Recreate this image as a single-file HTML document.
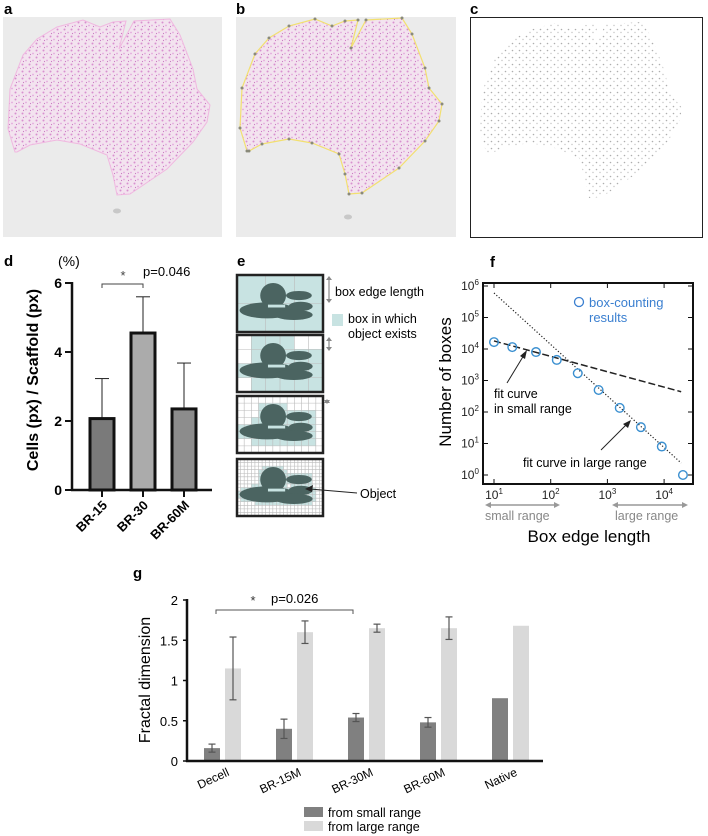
<!DOCTYPE html>
<html><head><meta charset="utf-8"><style>
body{margin:0;background:#fff}
svg{display:block;font-family:"Liberation Sans",Arial,sans-serif}
</style></head><body>
<svg id="fig" width="708" height="836" viewBox="0 0 708 836">
<defs>
<pattern id="pink" width="7" height="7" patternUnits="userSpaceOnUse">
<rect width="7" height="7" fill="#f3e3ef"/>
<circle cx="1.5" cy="1.5" r="1" fill="#d890cf"/>
<circle cx="5" cy="4.5" r="0.9" fill="#e4a8dc"/>
<circle cx="2.5" cy="5.5" r="0.6" fill="#c97cc2"/>
</pattern>
<pattern id="grey" width="7" height="7" patternUnits="userSpaceOnUse">
<rect width="7" height="7" fill="#fff"/>
<circle cx="1.5" cy="1.5" r="0.8" fill="#9a9a9a"/>
<circle cx="5" cy="4.5" r="0.7" fill="#b5b5b5"/>
</pattern>
</defs>
<g id="topg"></g>
<g id="pd"></g>
<g id="pe"></g>
<g id="pf"></g>
<g id="pg"></g>
</svg>
<script>
// ---- panel d data
const dCats=['BR-15','BR-30','BR-60M'];
const dVals=[2.07,4.55,2.35];
const dErr=[1.16,1.05,1.33];
const dTicks=[0,2,4,6];
// ---- panel f data
const fX=[10,21,55,128,300,700,1650,3900,9100,21500];
const fY=[16600,11500,8000,4500,1700,500,135,33,8,1];
const fSmallFitX=[10,20000];
const fSmallFitY=[18000,440];
const fLargeFitX=[10,20000];
const fLargeFitY=[600000,2.4];
const fXTicks=[1,2,3,4];
const fYTicks=[0,1,2,3,4,5,6];
// ---- panel g data
const gCats=['Decell','BR-15M','BR-30M','BR-60M','Native'];
const gSmall=[0.16,0.40,0.54,0.48,0.78];
const gSmallErr=[0.05,0.12,0.05,0.06,0];
const gLarge=[1.15,1.60,1.65,1.65,1.68];
const gLargeErr=[0.39,0.14,0.05,0.14,0];
const gTicks=[0,0.5,1,1.5,2];

const NS='http://www.w3.org/2000/svg';
function mk(tag,attrs,parent){const el=document.createElementNS(NS,tag);for(const k in attrs)el.setAttribute(k,attrs[k]);parent.appendChild(el);return el;}
function txt(s,attrs,parent){const el=mk('text',attrs,parent);el.textContent=s;return el;}
function sup(base,exp,x,y,parent){const t=mk('text',{x:x,y:y,'font-size':12,fill:'#222','text-anchor':'middle'},parent);t.appendChild(document.createTextNode(base));const s=document.createElementNS(NS,'tspan');s.setAttribute('dy',-5);s.setAttribute('font-size',8);s.textContent=exp;t.appendChild(s);return t;}

// ---------- top tissue panels
const topG=document.getElementById('topg');
const poly=[[9,133],[2,110],[4,70],[17,36],[31,20],[51,8],[77,1],[94,8],[107,3],[120,2],[113,30],[128,2],[164,0],[174,16],[187,50],[191,70],[204,86],[201,103],[187,123],[161,150],[124,175],[111,176],[107,156],[101,136],[74,125],[51,121],[24,126],[11,133]];
function pts(ox,oy){return poly.map(p=>(p[0]+ox)+','+(p[1]+oy)).join(' ');}
let e;
e=txt('a',{x:4,y:14,'font-size':15,'font-weight':'bold'},topG);


e=mk('rect',{x:3,y:17,width:219,height:220,fill:'#ebebeb'},topG);


e=mk('polygon',{points:pts(6,19),fill:'url(#pink)',stroke:'#f0b8e0','stroke-width':1},topG);


mk('ellipse',{cx:117,cy:211,rx:4,ry:2.5,fill:'#c8c8c8'},topG);
e=txt('b',{x:236,y:14,'font-size':15,'font-weight':'bold'},topG);


e=mk('rect',{x:236,y:17,width:220,height:220,fill:'#ebebeb'},topG);


e=mk('polygon',{points:pts(238,18),fill:'url(#pink)',stroke:'#f2e070','stroke-width':1.2},topG);


poly.forEach(p=>{mk('circle',{cx:p[0]+238,cy:p[1]+18,r:1.5,fill:'#8a8a7a'},topG);});
mk('ellipse',{cx:348,cy:217,rx:4,ry:2.5,fill:'#c8c8c8'},topG);
e=txt('c',{x:470,y:14,'font-size':15,'font-weight':'bold'},topG);


e=mk('rect',{x:470.5,y:17.5,width:232,height:220,fill:'#fff',stroke:'#222','stroke-width':1},topG);


e=mk('polygon',{points:pts(478,22),fill:'url(#grey)',opacity:0.8},topG);



// ---------- panel d
const pd=document.getElementById('pd');
const yD=v=>490-v*34.5, xD=i=>102+i*41;
const dCol=['#7a7a7a','#ababab','#8c8c8c'];
e=txt('d',{x:4,y:266,'font-size':15,'font-weight':'bold'},pd);


e=txt('(%)',{x:58,y:266,'font-size':14},pd);


dCats.forEach((c,i)=>{
  const cx=xD(i);
  const er=mk('line',{x1:cx,x2:cx,y1:yD(dVals[i]),y2:yD(dVals[i]+dErr[i]),stroke:'#222','stroke-width':1},pd);
  
  
  mk('line',{x1:cx-7,x2:cx+7,y1:yD(dVals[i]+dErr[i]),y2:yD(dVals[i]+dErr[i]),stroke:'#222','stroke-width':1},pd);
  const b=mk('rect',{x:cx-12,y:yD(dVals[i]),width:24,height:yD(0)-yD(dVals[i]),fill:dCol[i],stroke:'#111','stroke-width':3},pd);
  
  
  mk('line',{x1:cx,x2:cx,y1:490,y2:497,stroke:'#111','stroke-width':2},pd);
  const t=txt(c,{x:cx+6,y:506,'font-size':13,'font-weight':'bold','text-anchor':'end',transform:`rotate(-45 ${cx+6} 506)`},pd);
  
  
});
dTicks.forEach(v=>{
  mk('line',{x1:65,x2:72,y1:yD(v),y2:yD(v),stroke:'#111','stroke-width':2},pd);
  const t=txt(String(v),{x:62,y:yD(v)+5,'font-size':14,'font-weight':'bold','text-anchor':'end'},pd);
  
  
});
e=mk('line',{x1:72,x2:72,y1:yD(6)-1,y2:491,stroke:'#111','stroke-width':2.5},pd);


e=mk('line',{x1:71,x2:212,y1:490,y2:490,stroke:'#111','stroke-width':2.5},pd);


e=txt('Cells (px) / Scaffold (px)',{x:38,y:380,'font-size':16,'font-weight':'bold','text-anchor':'middle',transform:'rotate(-90 38 380)'},pd);


e=mk('path',{d:'M102 288 V284 H143 V288',fill:'none',stroke:'#444','stroke-width':1},pd);


txt('*',{x:123,y:280,'font-size':13,'text-anchor':'middle',fill:'#444'},pd);
e=txt('p=0.046',{x:143,y:276,'font-size':13},pd);



// ---------- panel e
const pe=document.getElementById('pe');
e=txt('e',{x:237,y:266,'font-size':15,'font-weight':'bold'},pe);


const boxes=[{y:275,c:3,r:2},{y:335,c:6,r:4},{y:396,c:12,r:8},{y:459,c:24,r:16}];
const BX=237,BW=86,BH=57;
const ells=[[0.42,0.36,0.15,0.22],[0.35,0.62,0.32,0.14],[0.72,0.36,0.15,0.08],[0.74,0.55,0.14,0.08],[0.66,0.7,0.22,0.09]];
function inObj(u,v){return ells.some(el=>((u-el[0])/el[2])**2+((v-el[1])/el[3])**2<=1);}
boxes.forEach((b,bi)=>{
  const g=mk('g',{},pe);
  
  
  mk('rect',{x:BX,y:b.y,width:BW,height:BH,fill:'#fff'},g);
  const cw=BW/b.c,ch=BH/b.r;
  for(let i=0;i<b.c;i++)for(let j=0;j<b.r;j++){
    let hit=false;
    for(let a=0;a<=6&&!hit;a++)for(let q=0;q<=6&&!hit;q++){if(inObj((i+a/6)/b.c,(j+q/6)/b.r))hit=true;}
    if(hit||bi===0)mk('rect',{x:BX+i*cw,y:b.y+j*ch,width:cw,height:ch,fill:'#c8e3e2'},g);
  }
  for(let i=1;i<b.c;i++)mk('line',{x1:BX+i*cw,x2:BX+i*cw,y1:b.y,y2:b.y+BH,stroke:'#bbb','stroke-width':0.6},g);
  for(let j=1;j<b.r;j++)mk('line',{x1:BX,x2:BX+BW,y1:b.y+j*ch,y2:b.y+j*ch,stroke:'#bbb','stroke-width':0.6},g);
  ells.forEach(el=>mk('ellipse',{cx:BX+el[0]*BW,cy:b.y+el[1]*BH,rx:el[2]*BW,ry:el[3]*BH,fill:'#4b6461'},g));
  mk('rect',{x:BX+0.36*BW,y:b.y+0.52*BH,width:0.2*BW,height:0.05*BH,fill:'#c8e3e2'},g);
  mk('rect',{x:BX,y:b.y,width:BW,height:BH,fill:'none',stroke:'#222','stroke-width':2.5},g);
});
function garrow(x,y1,y2,p){mk('line',{x1:x,x2:x,y1:y1+3,y2:y2-3,stroke:'#888','stroke-width':1.2},p);mk('polygon',{points:`${x-3},${y1+4} ${x},${y1} ${x+3},${y1+4}`,fill:'#888'},p);mk('polygon',{points:`${x-3},${y2-4} ${x},${y2} ${x+3},${y2-4}`,fill:'#888'},p);}
garrow(329,276,303,pe);garrow(329,337,351,pe);garrow(327,399,404,pe);
e=txt('box edge length',{x:335,y:296,'font-size':12.5},pe);


e=mk('rect',{x:332,y:314,width:11,height:12,fill:'#c8e3e2'},pe);


txt('box in which',{x:348,y:323,'font-size':12.5},pe);
txt('object exists',{x:348,y:338,'font-size':12.5},pe);
mk('line',{x1:357,y1:493,x2:310,y2:489,stroke:'#222','stroke-width':1},pe);
mk('polygon',{points:'305,489 313,485 312,492',fill:'#222'},pe);
e=txt('Object',{x:360,y:498,'font-size':12.5},pe);



// ---------- panel f
const pf=document.getElementById('pf');
const xF=v=>494+(Math.log10(v)-1)*56.7, yF=v=>475-Math.log10(v)*31.5;
e=txt('f',{x:490,y:267,'font-size':15,'font-weight':'bold'},pf);


e=mk('rect',{x:483,y:283,width:210,height:201,fill:'#fff',stroke:'#111','stroke-width':2},pf);


fXTicks.forEach(k=>{const x=xF(10**k);mk('line',{x1:x,x2:x,y1:484,y2:479,stroke:'#111'},pf);mk('line',{x1:x,x2:x,y1:283,y2:288,stroke:'#111'},pf);
  const t=sup('10',String(k),x,499,pf);});
fYTicks.forEach(k=>{const y=yF(10**k);mk('line',{x1:483,x2:488,y1:y,y2:y,stroke:'#111'},pf);mk('line',{x1:693,x2:688,y1:y,y2:y,stroke:'#111'},pf);
  const t=sup('10',String(k),470,y+4,pf);});
e=mk('line',{x1:xF(fLargeFitX[0]),y1:yF(fLargeFitY[0]),x2:xF(fLargeFitX[1]),y2:yF(fLargeFitY[1]),stroke:'#222','stroke-width':1.2,'stroke-dasharray':'1.2 2'},pf);


e=mk('line',{x1:xF(fSmallFitX[0]),y1:yF(fSmallFitY[0]),x2:xF(fSmallFitX[1]),y2:yF(fSmallFitY[1]),stroke:'#222','stroke-width':1.5,'stroke-dasharray':'7 3'},pf);


fX.forEach((x,i)=>{const c=mk('circle',{cx:xF(x),cy:yF(fY[i]),r:4.3,fill:'none',stroke:'#3a8fd0','stroke-width':1.4},pf);
  
  });
mk('circle',{cx:579,cy:302,r:4.5,fill:'none',stroke:'#3a7fd0','stroke-width':1.3},pf);
e=txt('box-counting',{x:589,y:307,'font-size':13,fill:'#3a7fd0'},pf);


txt('results',{x:589,y:322,'font-size':13,fill:'#3a7fd0'},pf);
txt('fit curve',{x:494,y:398,'font-size':12.5},pf);
txt('in small range',{x:494,y:413,'font-size':12.5},pf);
mk('line',{x1:507,y1:383,x2:524,y2:355,stroke:'#222'},pf);
mk('polygon',{points:'527,350 525,359 520,356',fill:'#222'},pf);
txt('fit curve in large range',{x:523,y:467,'font-size':12.5},pf);
mk('line',{x1:601,y1:450,x2:627,y2:424,stroke:'#222'},pf);
mk('polygon',{points:'631,420 628,428 623,424',fill:'#222'},pf);
function harrow(x1,x2,y,p){mk('line',{x1:x1+4,x2:x2-4,y1:y,y2:y,stroke:'#999','stroke-width':1.5},p);mk('polygon',{points:`${x1},${y} ${x1+6},${y-3} ${x1+6},${y+3}`,fill:'#999'},p);mk('polygon',{points:`${x2},${y} ${x2-6},${y-3} ${x2-6},${y+3}`,fill:'#999'},p);}
harrow(485,560,505,pf);harrow(612,688,505,pf);
txt('small range',{x:485,y:520,'font-size':12.5,fill:'#888'},pf);
txt('large range',{x:615,y:520,'font-size':12.5,fill:'#888'},pf);
e=txt('Box edge length',{x:589,y:542,'font-size':17,'text-anchor':'middle'},pf);


e=txt('Number of boxes',{x:451,y:382,'font-size':17,'text-anchor':'middle',transform:'rotate(-90 451 382)'},pf);



// ---------- panel g
const pg=document.getElementById('pg');
const yG=v=>761-v*80.5, xG=i=>222+i*72;
e=txt('g',{x:133,y:578,'font-size':15,'font-weight':'bold'},pg);


gTicks.forEach(v=>{mk('line',{x1:183,x2:187,y1:yG(v),y2:yG(v),stroke:'#111','stroke-width':1.5},pg);
  const t=txt(String(v),{x:178,y:yG(v)+5,'font-size':13,'text-anchor':'end'},pg);
  
  });
function errbar(cx,v,d){if(!d)return;mk('line',{x1:cx,x2:cx,y1:yG(v-d),y2:yG(v+d),stroke:'#555','stroke-width':1.2},pg);[v-d,v+d].forEach(w=>mk('line',{x1:cx-3.5,x2:cx+3.5,y1:yG(w),y2:yG(w),stroke:'#555','stroke-width':1.2},pg));}
gCats.forEach((c,i)=>{
  const cx=xG(i);
  const b1=mk('rect',{x:cx-18,y:yG(gSmall[i]),width:16,height:yG(0)-yG(gSmall[i]),fill:'#808080'},pg);
  
  
  const b2=mk('rect',{x:cx+3,y:yG(gLarge[i]),width:16,height:yG(0)-yG(gLarge[i]),fill:'#d9d9d9'},pg);
  
  
  errbar(cx-10,gSmall[i],gSmallErr[i]);
  errbar(cx+11,gLarge[i],gLargeErr[i]);
  const t=txt(c,{x:cx+8,y:775,'font-size':12,'text-anchor':'end',transform:`rotate(-25 ${cx+8} 775)`},pg);
  
  
});
e=mk('line',{x1:187,x2:187,y1:599,y2:762,stroke:'#111','stroke-width':2.5},pg);


e=mk('line',{x1:186,x2:543,y1:761,y2:761,stroke:'#111','stroke-width':2.5},pg);


e=txt('Fractal dimension',{x:150,y:680,'font-size':16,'text-anchor':'middle',transform:'rotate(-90 150 680)'},pg);


e=mk('path',{d:'M216 614 V610 H353 V614',fill:'none',stroke:'#555','stroke-width':1},pg);


txt('*',{x:253,y:605,'font-size':13,'text-anchor':'middle',fill:'#333'},pg);
e=txt('p=0.026',{x:271,y:603,'font-size':13},pg);


e=mk('rect',{x:304,y:807,width:19,height:10,fill:'#808080'},pg);


e=txt('from small range',{x:328,y:817,'font-size':12.5},pg);


e=mk('rect',{x:304,y:821,width:19,height:10,fill:'#d9d9d9'},pg);


e=txt('from large range',{x:328,y:831,'font-size':12.5},pg);


</script>
</body></html>
